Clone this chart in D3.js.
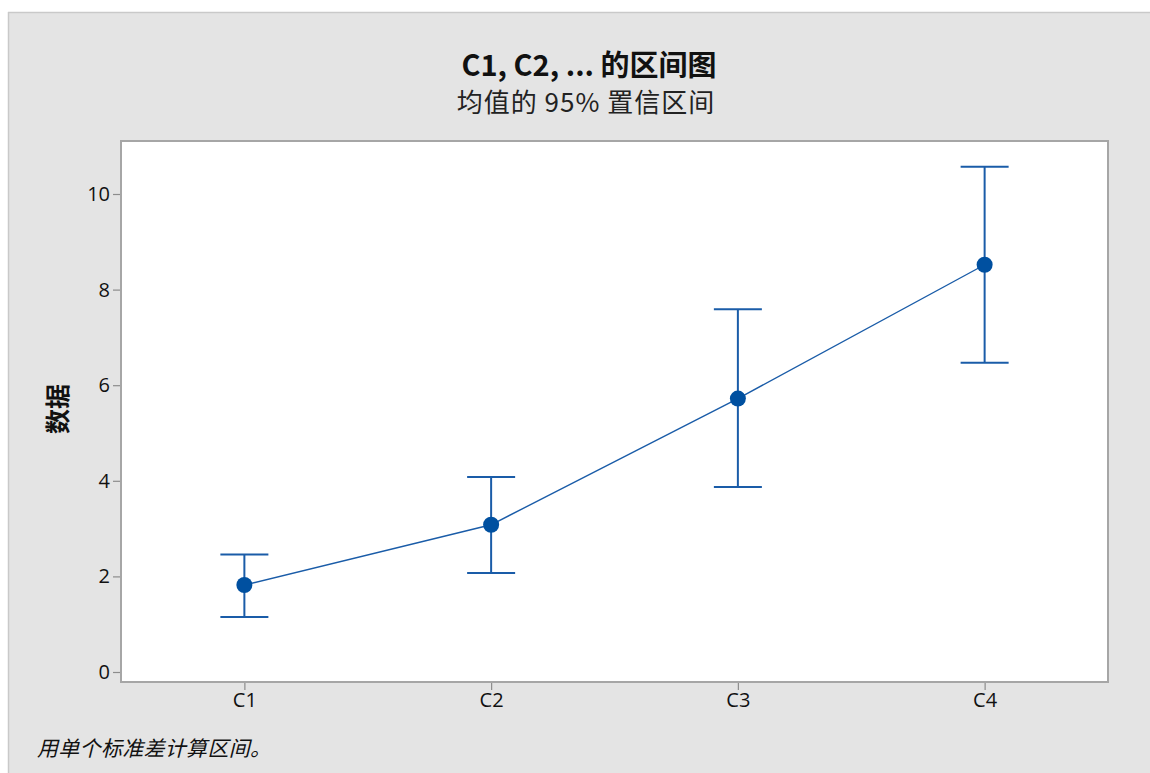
<!DOCTYPE html>
<html>
<head>
<meta charset="utf-8">
<script src="https://cdn.jsdelivr.net/npm/d3@7"></script>
<style>
  html, body { margin: 0; padding: 0; background: #ffffff; }
  svg { display: block; }
</style>
</head>
<body>
<svg id="chart" width="1150" height="773"></svg>
<script>
// Interval plot data: mean with 95% confidence interval per column
const categories = ["C1", "C2", "C3", "C4"];
const means = [1.82, 3.08, 5.72, 8.52];
const lowers = [1.15, 2.07, 3.87, 6.47];
const uppers = [2.46, 4.08, 7.59, 10.57];
const yTicks = [0, 2, 4, 6, 8, 10];

const titleText = "C1, C2, ... 的区间图";
const subtitleText = "均值的 95% 置信区间";
const yLabel = "数据";
const footnote = "用单个标准差计算区间。";

const svg = d3.select("#chart");
const W = 1150, H = 773;
const box = { left: 121, right: 1108, top: 141, bottom: 682 };
const cjk = "'Noto Sans CJK SC', 'Noto Sans', sans-serif";
const latin = "'Open Sans', 'Noto Sans', 'DejaVu Sans', sans-serif";
const blue = "#1a5ca8";
const dotBlue = "#0050a0";

// outer panel
svg.append("rect").attr("x", 0).attr("y", 0).attr("width", W).attr("height", H).attr("fill", "#ffffff");
svg.append("rect").attr("x", 8).attr("y", 12).attr("width", W - 8).attr("height", H - 12)
  .attr("fill", "#e4e4e4");
svg.append("line").attr("x1", 8).attr("x2", W).attr("y1", 12.5).attr("y2", 12.5)
  .attr("stroke", "#c9c9c9").attr("stroke-width", 1.5);
svg.append("line").attr("x1", 8.5).attr("x2", 8.5).attr("y1", 12).attr("y2", H)
  .attr("stroke", "#c9c9c9").attr("stroke-width", 1.5);

// titles
svg.append("text").attr("x", 589).attr("y", 76).attr("text-anchor", "middle")
  .attr("font-family", cjk).attr("font-weight", "bold").attr("font-size", 29)
  .attr("fill", "#111").text(titleText);
svg.append("text").attr("x", 586).attr("y", 112).attr("text-anchor", "middle")
  .attr("font-family", cjk).attr("font-size", 26).attr("letter-spacing", 1)
  .attr("fill", "#222").text(subtitleText);

// scales
const x = d3.scalePoint().domain(categories).range([box.left, box.right]).padding(0.5);
const y = d3.scaleLinear().domain([0, 10]).range([672, 194]);

// plot area
svg.append("rect").attr("x", box.left).attr("y", box.top)
  .attr("width", box.right - box.left).attr("height", box.bottom - box.top)
  .attr("fill", "#ffffff").attr("stroke", "#a6a6a6").attr("stroke-width", 2);

// axes
const yAxis = svg.append("g").attr("transform", `translate(${box.left - 1},0)`)
  .call(d3.axisLeft(y).tickValues(yTicks).tickSize(7).tickPadding(3));
const xAxis = svg.append("g").attr("transform", `translate(0,${box.bottom + 1})`)
  .call(d3.axisBottom(x).tickSize(7).tickPadding(3));
[yAxis, xAxis].forEach(g => {
  g.attr("font-size", null).attr("font-family", null);
  g.select(".domain").remove();
  g.selectAll(".tick line").attr("stroke", "#8c8c8c").attr("stroke-width", 1.2);
  g.selectAll(".tick text")
    .style("font-family", latin).style("font-size", "20px").attr("fill", "#111");
});

// y axis title
svg.append("text").attr("transform", "translate(67,409) rotate(-90)")
  .attr("text-anchor", "middle").attr("font-family", cjk).attr("font-weight", "bold")
  .attr("font-size", 25).attr("fill", "#111").text(yLabel);

// intervals
const rows = categories.map((c, i) => ({ c, m: means[i], lo: lowers[i], hi: uppers[i] }));
const capHalf = 24;
const g = svg.append("g");
g.selectAll(".stem").data(rows).join("line")
  .attr("x1", d => x(d.c)).attr("x2", d => x(d.c))
  .attr("y1", d => y(d.lo)).attr("y2", d => y(d.hi))
  .attr("stroke", blue).attr("stroke-width", 2);
g.selectAll(".capHi").data(rows).join("line")
  .attr("x1", d => x(d.c) - capHalf).attr("x2", d => x(d.c) + capHalf)
  .attr("y1", d => y(d.hi)).attr("y2", d => y(d.hi))
  .attr("stroke", blue).attr("stroke-width", 2);
g.selectAll(".capLo").data(rows).join("line")
  .attr("x1", d => x(d.c) - capHalf).attr("x2", d => x(d.c) + capHalf)
  .attr("y1", d => y(d.lo)).attr("y2", d => y(d.lo))
  .attr("stroke", blue).attr("stroke-width", 2);

// mean connect line
g.append("path").datum(rows)
  .attr("d", d3.line().x(d => x(d.c)).y(d => y(d.m)))
  .attr("fill", "none").attr("stroke", blue).attr("stroke-width", 1.4);

// mean symbols
g.selectAll(".dot").data(rows).join("circle")
  .attr("cx", d => x(d.c)).attr("cy", d => y(d.m)).attr("r", 8)
  .attr("fill", dotBlue);

// footnote
svg.append("text").attr("x", 37).attr("y", 756)
  .attr("font-family", cjk).attr("font-style", "italic").attr("font-size", 21)
  .attr("letter-spacing", 0.3).attr("fill", "#111").text(footnote);
</script>
</body>
</html>
